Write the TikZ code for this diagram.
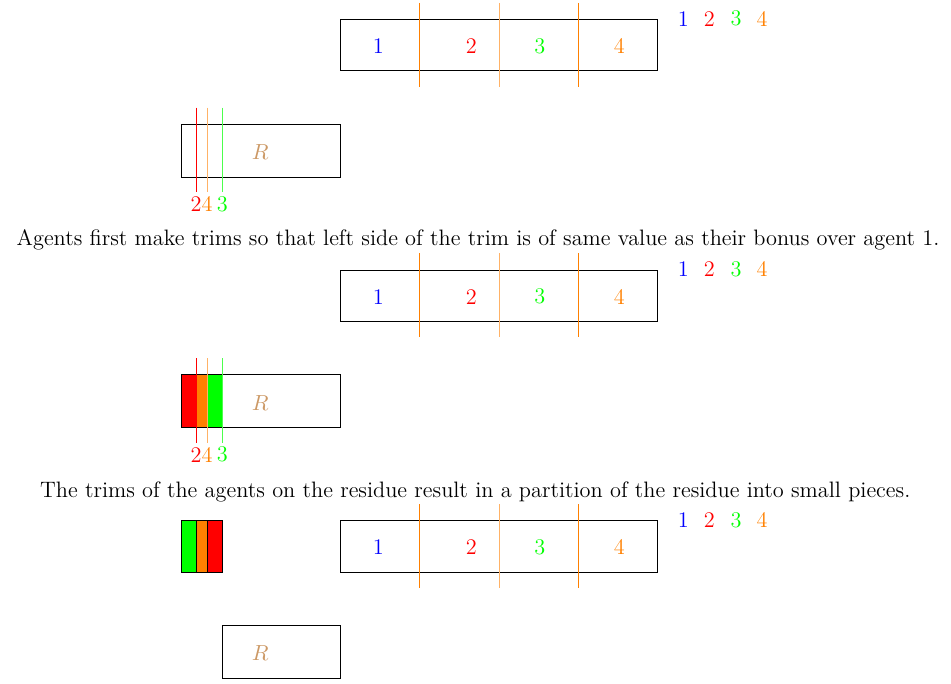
\documentclass[tikz,border=0pt]{standalone}
\usepackage{tikz}
\usetikzlibrary{positioning}
\tikzset{
  cakebox/.style={draw=black,thin},
  cutline/.style={draw=orange,thin},
  trimline/.style={thin},
  lbl/.style={inner sep=0pt,font=\fontsize{11.2pt}{13.4pt}\selectfont},
  reslbl/.style={lbl,text=brown!80},
  caption/.style={lbl,align=center}
}

\begin{document}
\begin{tikzpicture}
\useasboundingbox (0,0) rectangle (16.77,-12.05);

% the cake and the legend, once per step
\foreach \s/\dy in {a/0,b/-4.42,c/-8.84}{
\begin{scope}[yshift=\dy cm]
\draw[cakebox] (6,-0.34) rectangle (11.6,-1.25);
\draw[cutline] (7.4,-0.05) -- (7.4,-1.53);
\draw[cutline,draw=orange!60] (8.8,-0.05) -- (8.8,-1.53);
\draw[cutline] (10.2,-0.05) -- (10.2,-1.53);
\node[lbl,text=blue] (piece\s1) at (6.67,-0.81) {1};
\node[lbl,text=red] (piece\s2) at (8.31,-0.81) {2};
\node[lbl,text=green] (piece\s3) at (9.52,-0.81) {3};
\node[lbl,text=orange] (piece\s4) at (10.92,-0.81) {4};
\node[lbl,text=blue] (key\s1) at (12.05,-0.33) {1};
\node[lbl,text=red] (key\s2) at (12.51,-0.33) {2};
\node[lbl,text=green] (key\s3) at (12.98,-0.33) {3};
\node[lbl,text=orange] (key\s4) at (13.44,-0.33) {4};
\end{scope}
}

% step 1: trims on the residue
\draw[cakebox] (3.2,-2.19) rectangle (6,-3.12);
\node[reslbl] (resa) at (4.59,-2.68) {$R$};
\draw[trimline,red] (3.46,-1.9) -- (3.46,-3.39);
\draw[trimline,orange!60] (3.65,-1.9) -- (3.65,-3.39);
\draw[trimline,green!70] (3.92,-1.9) -- (3.92,-3.39);
\node[lbl,text=red] (trima2) at (3.46,-3.6) {2};
\node[lbl,text=orange] (trima4) at (3.65,-3.6) {4};
\node[lbl,text=green] (trima3) at (3.92,-3.6) {3};
\node[caption] (capa) at (8.43,-4.23) {Agents first make trims so that left side of the trim is of same value as their bonus over agent 1.};

% step 2: small pieces
\begin{scope}[yshift=-4.42cm]
\fill[red] (3.2,-2.19) rectangle (3.46,-3.12);
\fill[orange] (3.46,-2.19) rectangle (3.65,-3.12);
\fill[green] (3.65,-2.19) rectangle (3.92,-3.12);
\draw[cakebox] (3.2,-2.19) rectangle (6,-3.12);
\node[reslbl] (resb) at (4.59,-2.68) {$R$};
\draw[trimline,red] (3.46,-1.9) -- (3.46,-3.39);
\draw[trimline,orange!60] (3.65,-1.9) -- (3.65,-3.39);
\draw[trimline,green!70] (3.92,-1.9) -- (3.92,-3.39);
\node[lbl,text=red] (trimb2) at (3.46,-3.6) {2};
\node[lbl,text=orange] (trimb4) at (3.65,-3.6) {4};
\node[lbl,text=green] (trimb3) at (3.92,-3.6) {3};
\node[caption] (capb) at (8.38,-4.26) {The trims of the agents on the residue result in a partition of the residue into small pieces.};
\end{scope}

% step 3: pieces taken out
\begin{scope}[yshift=-8.84cm]
\draw[cakebox,fill=green] (3.2,-0.34) rectangle (3.47,-1.25);
\draw[cakebox,fill=orange] (3.47,-0.34) rectangle (3.65,-1.25);
\draw[cakebox,fill=red] (3.65,-0.34) rectangle (3.93,-1.25);
\draw[cakebox] (3.93,-2.19) rectangle (6,-3.12);
\node[reslbl] (resc) at (4.59,-2.68) {$R$};
\end{scope}
\end{tikzpicture}
\end{document}
